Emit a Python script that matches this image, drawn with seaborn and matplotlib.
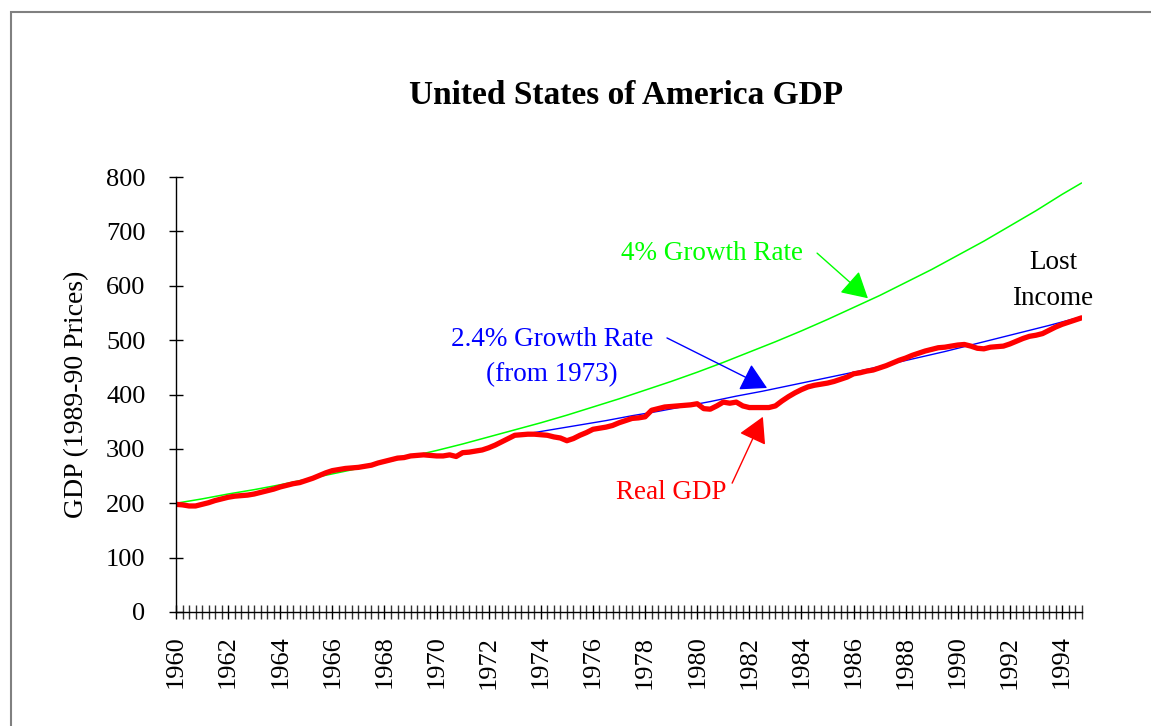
import numpy as np
import pandas as pd
import matplotlib
matplotlib.use("Agg")
import matplotlib.pyplot as plt
from matplotlib.ticker import MultipleLocator, FixedLocator
from matplotlib.patches import Rectangle
import seaborn as sns

# ---------------- data ----------------
start_year = 1960
# Real GDP, quarterly 1960Q1 .. 1994Q4 (1989-90 prices)
real_gdp = [
    198, 197, 195, 195,   # 1960
    198, 201, 205, 208,   # 1961
    211, 213, 214, 215,   # 1962
    217, 220, 223, 226,   # 1963
    230, 233, 236, 238,   # 1964
    242, 246, 251, 256,   # 1965
    260, 262, 264, 265,   # 1966
    266, 268, 270, 274,   # 1967
    277, 280, 283, 284,   # 1968
    287, 288, 289, 288,   # 1969
    287, 287, 289, 286,   # 1970
    293, 294, 296, 298,   # 1971
    302, 307, 313, 319,   # 1972
    325, 326, 327, 327,   # 1973
    326, 325, 322, 320,   # 1974
    315, 319, 325, 330,   # 1975
    336, 338, 340, 343,   # 1976
    348, 352, 356, 357,   # 1977
    359, 371, 374, 377,   # 1978
    378, 379, 380, 381,   # 1979
    383, 374, 373, 379,   # 1980
    386, 384, 386, 379,   # 1981
    376, 376, 376, 376,   # 1982
    379, 388, 396, 403,   # 1983
    409, 414, 417, 419,   # 1984
    421, 424, 428, 432,   # 1985
    438, 440, 443, 445,   # 1986
    449, 453, 458, 463,   # 1987
    467, 472, 476, 480,   # 1988
    483, 486, 487, 489,   # 1989
    491, 492, 489, 485,   # 1990
    484, 487, 488, 489,   # 1991
    493, 498, 503, 507,   # 1992
    509, 512, 518, 524,   # 1993
    529, 533, 537, 541,   # 1994
]
quarter_x = [start_year + i / 4 for i in range(len(real_gdp))]

# 4% growth trend (read at the start of each year, plus the final quarter)
growth4_x = list(range(1960, 1995)) + [1994.75]
growth4 = [200, 208, 217, 225, 234, 244, 254, 264, 275, 286,
           297, 309, 322, 335, 348, 362, 377, 392, 408, 424,
           441, 459, 478, 497, 517, 538, 560, 582, 606, 630,
           656, 682, 710, 738, 768, 789]

# 2.4% growth trend from 1973
growth24_x = [1973.5 + k for k in range(21)] + [1994.75]
growth24 = [328, 336, 344, 352, 361, 369, 378, 387, 397, 406,
            416, 426, 436, 446, 457, 468, 479, 491, 503, 515,
            527, 543]

x_tick_years = list(range(1960, 1995, 2))
y_ticks = [0, 100, 200, 300, 400, 500, 600, 700, 800]

df_real = pd.DataFrame({"year": quarter_x, "gdp": real_gdp})
df_g4 = pd.DataFrame({"year": growth4_x, "gdp": growth4})
df_g24 = pd.DataFrame({"year": growth24_x, "gdp": growth24})

# ---------------- style ----------------
sns.set_style("white")
plt.rcParams["font.family"] = ["Liberation Serif", "DejaVu Serif"]
plt.rcParams["mathtext.default"] = "regular"
for k in ["text.color", "axes.labelcolor", "xtick.color", "ytick.color"]:
    plt.rcParams[k] = "black"

W, H = 1151, 726
fig = plt.figure(figsize=(W / 100, H / 100), dpi=100)
fig.patch.set_facecolor("white")

ax_left = 176 / W
ax_right = 1081.6 / W
ax_bottom = (H - 612) / H
ax_top = (H - 177) / H
ax = fig.add_axes([ax_left, ax_bottom, ax_right - ax_left, ax_top - ax_bottom])

sns.lineplot(data=df_g4, x="year", y="gdp", ax=ax, color="#00ff00", lw=1.1, sort=False)
sns.lineplot(data=df_g24, x="year", y="gdp", ax=ax, color="#0000ff", lw=1.0, sort=False)
sns.lineplot(data=df_real, x="year", y="gdp", ax=ax, color="#ff0000", lw=3.8, sort=False)

ax.set_xlim(1960, 1994.75)
ax.set_ylim(0, 800)

for side in ["top", "right"]:
    ax.spines[side].set_visible(False)
for side in ["left", "bottom"]:
    ax.spines[side].set_color("black")
    ax.spines[side].set_linewidth(1.0)

ax.xaxis.set_major_locator(FixedLocator(x_tick_years))
ax.set_xticklabels([str(y) for y in x_tick_years], rotation=90, fontsize=19)
ax.xaxis.set_minor_locator(MultipleLocator(0.25))
ax.tick_params(axis="x", which="both", direction="inout", length=10,
               width=1.0, color="#333333", bottom=True, pad=12)
ax.tick_params(axis="x", which="major", colors="black", labelcolor="black")

ax.yaxis.set_major_locator(FixedLocator(y_ticks))
ax.set_yticklabels([str(v) for v in y_ticks], fontsize=19)
ax.tick_params(axis="y", which="major", direction="inout", length=10,
               width=1.0, color="black", left=True, pad=17)

ax.set_xlabel("")
ax.set_ylabel("GDP (1989-90 Prices)", fontsize=20, labelpad=12)

fig.text(626 / W, 1 - 95 / H, "United States of America GDP",
         ha="center", va="center", fontsize=24, fontweight="bold")

# annotations
def arrow(tail, tip, color):
    ax.annotate("", xy=tip, xytext=tail,
                arrowprops=dict(arrowstyle="-|>,head_length=0.8,head_width=0.45",
                                color=color, lw=1.0, mutation_scale=20,
                                shrinkA=0, shrinkB=0))

ax.text(1980.57, 660, "4% Growth Rate", ha="center", va="center",
        fontsize=19.5, color="#00ff00")
arrow((1984.6, 660), (1986.55, 577), "#00ff00")

ax.text(1974.43, 502, "2.4% Growth Rate", ha="center", va="center",
        fontsize=19.5, color="#0000ff")
ax.text(1974.43, 436, "(from 1973)", ha="center", va="center",
        fontsize=19.5, color="#0000ff")
arrow((1978.84, 504), (1982.68, 412), "#0000ff")

ax.text(1979.0, 219, "Real GDP", ha="center", va="center",
        fontsize=19.5, color="#ff0000")
arrow((1981.34, 237), (1982.52, 359), "#ff0000")

ax.text(1993.65, 642, "Lost", ha="center", va="center", fontsize=19.5, color="black")
ax.text(1993.65, 577, "Income", ha="center", va="center", fontsize=19.5, color="black")

# outer frame
fig.patches.append(Rectangle((11 / W, -0.2), 1.5, (H - 12) / H + 0.2,
                             transform=fig.transFigure, fill=False,
                             edgecolor="#808080", lw=1.5, clip_on=False))

fig.savefig("out.png", dpi=100, facecolor="white")
